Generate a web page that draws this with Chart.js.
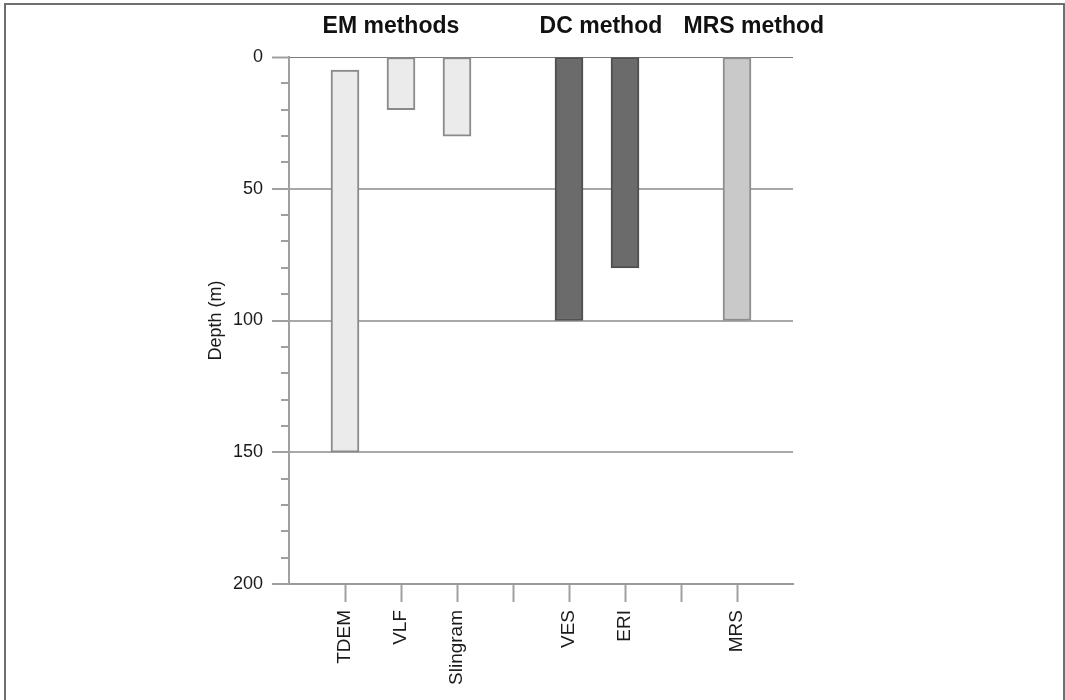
<!DOCTYPE html>
<html>
<head>
<meta charset="utf-8">
<script src="https://cdn.jsdelivr.net/npm/chart.js@4.4.0/dist/chart.umd.min.js"></script>
<style>
  html, body { margin: 0; padding: 0; background: #fff; overflow: hidden; }
  #frame {
    position: absolute; left: 4px; top: 3px; width: 1057px; height: 760px;
    border: 2px solid #6e6e6e; border-bottom: none;
  }
  #wrap { position: absolute; left: 0; top: 0; width: 1065px; height: 700px; }
</style>
</head>
<body>
<div id="frame"></div>
<div id="wrap"><canvas id="chart" width="1065" height="700"></canvas></div>
<script>
// x slots, blanks are the gaps between method groups
const slots = ['', 'TDEM', 'VLF', 'Slingram', '', 'VES', 'ERI', '', 'MRS', ''];
const methods = ['TDEM', 'VLF', 'Slingram', 'VES', 'ERI', 'MRS'];
const depthTop = [5, 0, 0, 0, 0, 0];
const depthBottom = [150, 20, 30, 100, 80, 100];
const methodGroup = ['EM', 'EM', 'EM', 'DC', 'DC', 'MRS'];
const groupTitles = ['EM methods', 'DC method', 'MRS method'];
const groupTitleAt = [1.82, 5.57, 8.3]; // position on the x scale (slot index)

const fillColors = { EM: '#ebebeb', DC: '#6b6b6b', MRS: '#c9c9c9' };
const edgeColors = { EM: '#8a8a8a', DC: '#505050', MRS: '#8e8e8e' };

const font = "'Liberation Sans', Arial, sans-serif";
Chart.defaults.font.family = font;
Chart.defaults.color = '#1a1a1a';

// one value per slot, null where there is no bar
const barData = slots.map(function(s, i) {
    if (s === '') return null;
    const k = methods.indexOf(s);
    return [depthTop[k], depthBottom[k]];
});
const barFill = slots.map(function(s) {
    const k = methods.indexOf(s);
    return k < 0 ? 'transparent' : fillColors[methodGroup[k]];
});
const barEdge = slots.map(function(s) {
    const k = methods.indexOf(s);
    return k < 0 ? 'transparent' : edgeColors[methodGroup[k]];
});

const groupTitlePlugin = {
    id: 'groupTitles',
    afterDraw: function(c) {
        const ctx = c.ctx;
        const xs = c.scales.x;
        ctx.save();
        ctx.font = 'bold 23px ' + font;
        ctx.fillStyle = '#111';
        ctx.textAlign = 'center';
        ctx.textBaseline = 'middle';
        groupTitles.forEach(function(t, i) {
            ctx.fillText(t, xs.getPixelForValue(groupTitleAt[i]), 27);
        });
        ctx.restore();
    }
};

new Chart(document.getElementById('chart').getContext('2d'), {
    type: 'bar',
    data: {
        labels: slots,
        datasets: [{
            data: barData,
            backgroundColor: barFill,
            borderColor: barEdge,
            borderWidth: 2,
            borderSkipped: false,
            barThickness: 28
        }]
    },
    options: {
        responsive: false,
        animation: false,
        devicePixelRatio: 1,
        layout: { padding: { left: 205, right: 272, top: 57, bottom: 0 } },
        plugins: { legend: { display: false }, tooltip: { enabled: false } },
        scales: {
            x: {
                offset: false,
                grid: {
                    offset: false,
                    drawOnChartArea: false,
                    tickLength: 18,
                    tickWidth: 2,
                    tickColor: function(ctx) {
                        return (ctx.index === 0 || ctx.index === slots.length - 1) ? 'transparent' : '#a0a0a0';
                    }
                },
                border: { color: '#9a9a9a', width: 2 },
                ticks: {
                    autoSkip: false,
                    minRotation: 90,
                    maxRotation: 90,
                    padding: 8,
                    font: { size: 19 }
                },
                afterFit: function(s) { s.height = 116; }
            },
            y: {
                reverse: true,
                min: 0,
                max: 200,
                title: { display: true, text: 'Depth (m)', font: { size: 18 }, padding: 0 },
                grid: {
                    color: function(ctx) {
                        if (ctx.tick && ctx.tick.value % 50 === 0) return ctx.tick.value === 0 ? '#7a7a7a' : '#a8a8a8';
                        return 'transparent';
                    },
                    lineWidth: function(ctx) { return ctx.tick && ctx.tick.value === 0 ? 1 : 2; },
                    tickColor: '#a0a0a0',
                    tickWidth: 2,
                    tickLength: 17,
                    // minor ticks: only the inner 8px next to the axis
                    tickBorderDash: function(ctx) {
                        return ctx.tick && ctx.tick.value % 50 === 0 ? [] : [8, 9];
                    },
                    tickBorderDashOffset: function(ctx) {
                        return ctx.tick && ctx.tick.value % 50 === 0 ? 0 : 8;
                    }
                },
                border: { color: '#a0a0a0', width: 2 },
                ticks: {
                    stepSize: 10,
                    padding: 9,
                    font: { size: 18 },
                    callback: function(v) { return v % 50 === 0 ? v : ''; }
                },
                afterFit: function(s) { s.width = 84; }
            }
        }
    },
    plugins: [groupTitlePlugin]
});
</script>
</body>
</html>
